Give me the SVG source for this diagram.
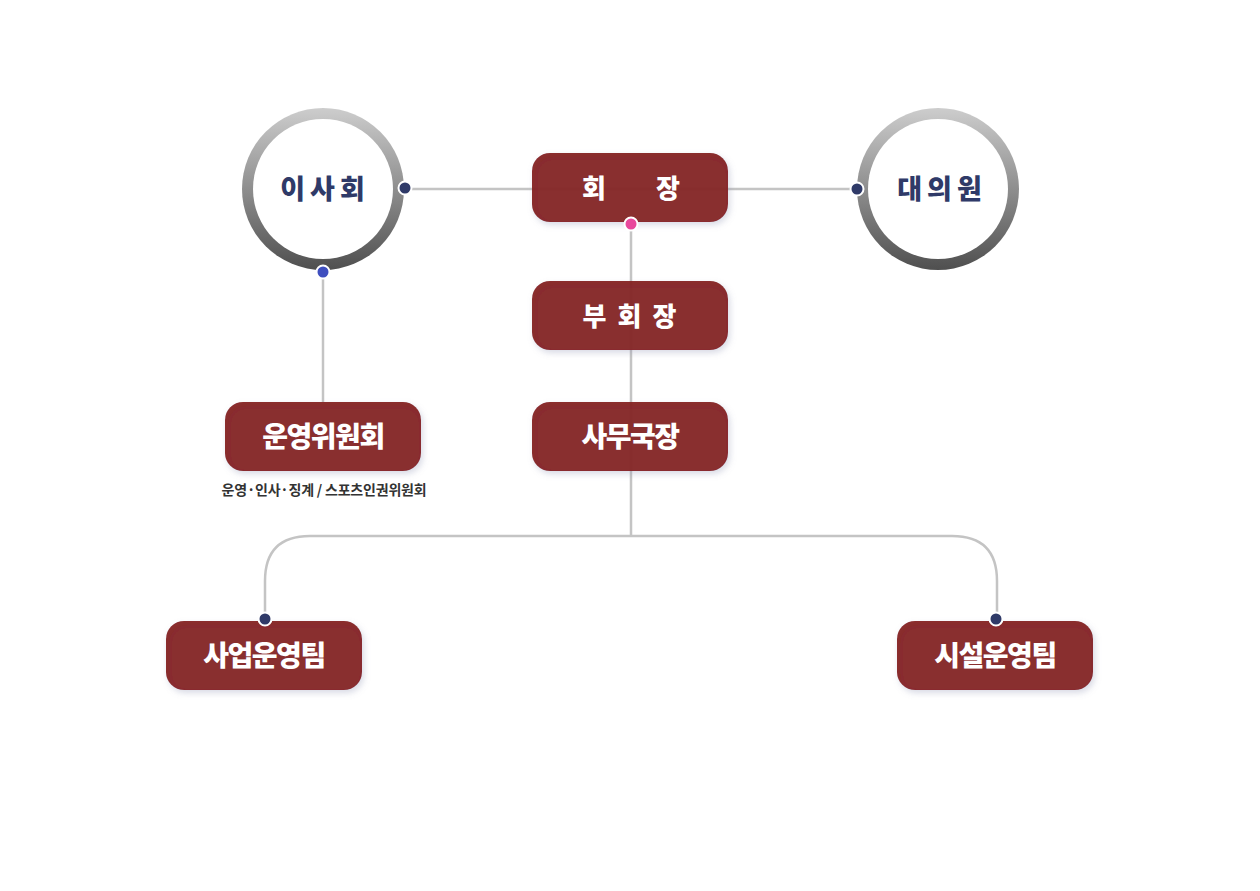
<svg xmlns="http://www.w3.org/2000/svg" width="1260" height="891" viewBox="0 0 1260 891">
<style>
.box{fill:#84201f;fill-opacity:0.95;filter:url(#sh)}
.bt{font-family:"Noto Sans CJK KR","Noto Sans",sans-serif;font-weight:900;font-size:26px;fill:#fff;text-anchor:middle}
.bw{font-size:28px}
.ct{font-family:"Noto Sans CJK KR","Noto Sans",sans-serif;font-weight:900;font-size:27px;fill:#2f3a68;text-anchor:middle}
.ln{fill:none;stroke:#c4c4c4;stroke-width:2.5}
.dot{stroke:#fff;stroke-width:2}
.sub{font-family:"Noto Sans CJK KR","Noto Sans",sans-serif;font-weight:700;font-size:14px;fill:#333;text-anchor:middle}
</style>
<defs>
<linearGradient id="ring" x1="0" y1="0" x2="0" y2="1">
<stop offset="0" stop-color="#cdcdcd"/>
<stop offset="1" stop-color="#4f4f4f"/>
</linearGradient>
<filter id="sh" x="-20%" y="-30%" width="140%" height="170%">
<feDropShadow dx="2" dy="3" stdDeviation="3" flood-color="#8a90b0" flood-opacity="0.35"/>
</filter>
</defs>
<rect width="1260" height="891" fill="#fff"/>
<g id="connectors">
<path class="ln" d="M404,189 H857"/>
<path class="ln" d="M631,224 V536"/>
<path class="ln" d="M323,272 V402"/>
<path class="ln" d="M265,619 V581 Q265,536 310,536 H952 Q997,536 997,581 V619"/>
</g>
<g id="n-isahoe">
<circle cx="323" cy="189" r="81" fill="url(#ring)"/>
<circle cx="323" cy="189" r="70" fill="#fff"/>
<text class="ct" x="325" y="199" letter-spacing="5">이사회</text>
</g>
<g id="n-daeuiwon">
<circle cx="938" cy="189" r="81" fill="url(#ring)"/>
<circle cx="938" cy="189" r="70" fill="#fff"/>
<text class="ct" x="942" y="199" letter-spacing="5">대의원</text>
</g>
<g id="n-hoejang">
<rect class="box" x="532" y="153" width="196" height="69" rx="18"/>
<text class="bt" x="594" y="198">회</text>
<text class="bt" x="668" y="198">장</text>
</g>
<g id="n-buhoejang">
<rect class="box" x="532" y="281" width="196" height="69" rx="18"/>
<text class="bt" x="635" y="326" letter-spacing="11">부회장</text>
</g>
<g id="n-samugukjang">
<rect class="box" x="532" y="402" width="196" height="69" rx="18"/>
<text class="bt bw" x="630" y="447" letter-spacing="-1.5">사무국장</text>
</g>
<g id="n-unyeong">
<rect class="box" x="225" y="402" width="196" height="69" rx="18"/>
<text class="bt bw" x="323" y="447" letter-spacing="-1.5">운영위원회</text>
<text class="sub" x="324" y="495" letter-spacing="-0.2">운영·인사·징계 / 스포츠인권위원회</text>
</g>
<g id="n-saeop">
<rect class="box" x="166" y="621" width="196" height="69" rx="18"/>
<text class="bt bw" x="264" y="666" letter-spacing="-1.5">사업운영팀</text>
</g>
<g id="n-siseol">
<rect class="box" x="897" y="621" width="196" height="69" rx="18"/>
<text class="bt bw" x="995" y="666" letter-spacing="-1.5">시설운영팀</text>
</g>
<g id="dots">
<circle class="dot" cx="405" cy="188" r="6.5" fill="#2f3a68"/>
<circle class="dot" cx="857" cy="189" r="6.5" fill="#2f3a68"/>
<circle class="dot" cx="631" cy="224" r="6.5" fill="#e8489c"/>
<circle class="dot" cx="323" cy="272" r="6.5" fill="#3f4fbf"/>
<circle class="dot" cx="265" cy="619" r="6.5" fill="#2f3a68"/>
<circle class="dot" cx="996" cy="619" r="6.5" fill="#2f3a68"/>
</g>
</svg>
